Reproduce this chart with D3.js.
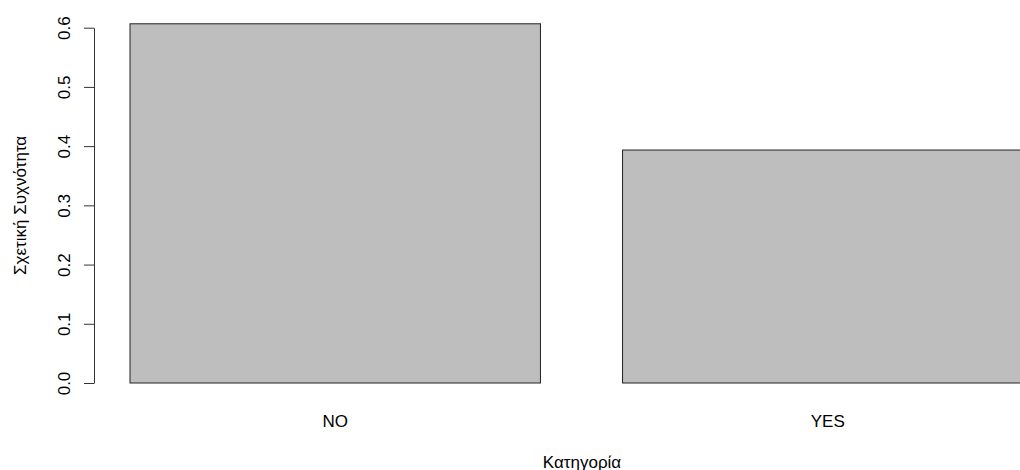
<!DOCTYPE html>
<html>
<head>
<meta charset="utf-8">
<script src="https://cdn.jsdelivr.net/npm/d3@7"></script>
<style>
  body { margin: 0; background: #fff; }
  text { font-family: "Liberation Sans", Arial, Helvetica, sans-serif; fill: #000; }
</style>
</head>
<body>
<div id="chart"></div>
<script>
var categories = ["NO", "YES"];
var values = [0.6066, 0.3934];
var yTicks = [0, 0.1, 0.2, 0.3, 0.4, 0.5, 0.6];
var xTitle = "Κατηγορία";
var yTitle = "Σχετική Συχνότητα";

var width = 1020,
    height = 470;

// R style plot region (right side runs past the window)
var plotLeft = 94, plotRight = 1070;

var svg = d3.select("#chart")
            .append("svg")
            .attr("width", width)
            .attr("height", height)

var x = d3.scaleBand()
          .domain(categories)
          .range([130, 1033])
          .paddingInner(1 / 6)
          .paddingOuter(0)

var y = d3.scaleLinear()
          .domain([0, 0.6])
          .range([383, 27.7])

var data = categories.map(function(c, i){
    return {name: c, value: values[i]}
})

svg.selectAll(".bar")
   .data(data)
   .enter().append("rect")
   .attr("class", "bar")
   .attr("x", function(d){ return x(d.name) })
   .attr("width", x.bandwidth())
   .attr("y", function(d){ return y(d.value) })
   .attr("height", function(d){ return y(0) - y(d.value) })
   .attr("fill", "#bebebe")
   .attr("stroke", "#222")
   .attr("stroke-width", 1)

// y axis
var yAxis = svg.append("g")
   .attr("transform", "translate(" + plotLeft + ",0)")
   .call(d3.axisLeft(y).tickValues(yTicks).tickFormat(d3.format(".1f")).tickSize(10).tickSizeOuter(0))

yAxis.select(".domain").attr("stroke", "#333")
yAxis.selectAll(".tick line").attr("stroke", "#333")
yAxis.selectAll(".tick text")
     .attr("x", 0)
     .attr("dy", 0)
     .attr("font-size", 17)
     .attr("text-anchor", "middle")
     .attr("transform", "translate(-24,0) rotate(-90)")
     .style("font-family", "'Liberation Sans', Arial, sans-serif")
     .attr("fill", "#000")

// category labels
svg.selectAll(".xlab")
   .data(categories)
   .enter().append("text")
   .attr("class", "xlab")
   .attr("x", function(d){ return x(d) + x.bandwidth() / 2 })
   .attr("y", 427)
   .attr("text-anchor", "middle")
   .attr("font-size", 17)
   .text(function(d){ return d })

svg.append("text")
   .attr("x", (plotLeft + plotRight) / 2)
   .attr("y", 468)
   .attr("text-anchor", "middle")
   .attr("font-size", 17)
   .text(xTitle)

svg.append("text")
   .attr("transform", "translate(26," + ((y(0.6) + y(0)) / 2 + 0) + ") rotate(-90)")
   .attr("text-anchor", "middle")
   .attr("font-size", 17)
   .text(yTitle)
</script>
</body>
</html>
